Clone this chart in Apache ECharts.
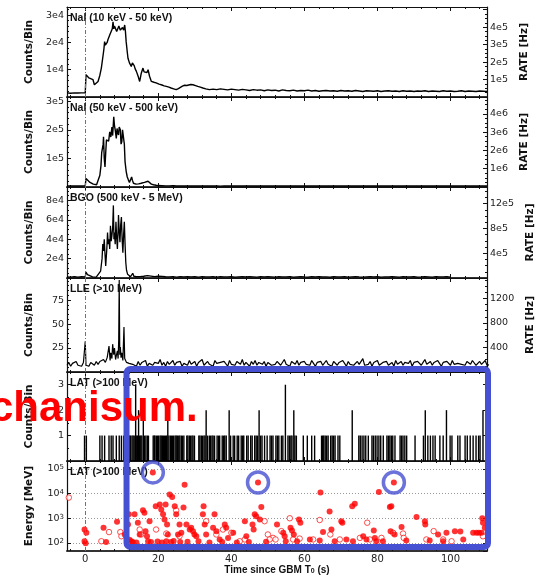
<!DOCTYPE html>
<html>
<head>
<meta charset="utf-8">
<script src="https://cdn.jsdelivr.net/npm/echarts@6/dist/echarts.min.js"></script>
<style>
  html, body { margin: 0; padding: 0; background: #fff; }
  #main { width: 536px; height: 580px; }
</style>
</head>
<body>
<div id="main"></div>
<script>
// ---- data ----
// time in s since GBM T0, counts per bin
const nai1Burst = [
  [-5,1500],[-4.5,1600],[-4,1400],[-3.5,1550],[-3,1500],[-2.5,1600],[-2,1450],[-1.5,1550],[-1,1500],[-0.5,1600],[0,1500],
  [0.2,8200],[0.6,7600],[1.0,7000],[1.5,7300],[2.1,6400],[2.5,4500],[3.0,5000],[3.5,5700],[4.0,8000],[4.4,10600],
  [4.9,15500],[5.1,17500],[5.3,20300],[5.5,19000],[5.7,18500],[6.0,20000],[6.2,21000],[6.5,20500],[6.7,22700],
  [7.1,22000],[7.4,25000],[7.6,27600],[7.8,25000],[8.0,26000],[8.3,26500],[8.6,24000],[8.9,24500],[9.2,26000],
  [9.6,24500],[9.9,23900],[10.2,25500],[10.5,24500],[10.8,26400],[11.0,24000],[11.2,20300],[11.5,16500],[11.7,14200],
  [12.1,12500],[12.4,11800],[12.6,11200],[12.9,12500],[13.1,13000],[13.4,11500],[13.7,10200],[14.0,9400],[14.5,7500],
  [14.9,5700],[15.3,8500],[15.6,9800],[15.8,10600],[16.1,9200],[16.5,9700],[16.9,9000],[17.2,10000],[17.6,7600],
  [18.1,5700],[18.8,5400],[19.4,5200],[20.2,4700],[21.0,4400],[21.6,4100],[22.2,3900],[22.9,3600],[23.5,3300],
  [24.2,3000],[24.9,2700],[25.5,3100],[26.0,3600],[26.6,4000],[27.2,4300],[27.8,4200],[28.3,4400],[28.9,4600],
  [29.5,4500],[30.2,4200],[30.8,3900],[31.5,3600],[32.2,3300],[33.0,3000],[34.0,2700]
];
// 1 s bins from t = 35
const nai1Tail = [
  2900,2700,3000,2800,2600,2900,2700,2500,2800,2600,
  2400,2700,2500,2600,2300,2600,2400,2500,2200,2600,
  2400,2300,2500,2200,2400,2300,2500,2200,2400,2100,
  2300,2400,2200,2300,2100,2400,2200,2300,2100,2400,
  2200,2000,2300,2200,2100,2300,2000,2200,2300,2100,
  2200,2000,2300,2100,2200,2000,2200,2100,2300,2000,
  2200,2100,2000,2300,2100,2200,2000,2100,2300,2000,
  2200,2100,2000,2200,2100,2000
];

const nai2Burst = [
  [-5,3800],[-4.5,4200],[-4,3500],[-3.5,4000],[-3,3700],[-2.5,4100],[-2,3600],[-1.5,3900],[-1,3500],[-0.5,4000],[0,3800],
  [0.2,30000],[0.7,24000],[1.3,16000],[1.8,12000],[2.2,10000],[2.7,8500],[3.1,8000],[3.6,12000],[4.0,41000],
  [4.3,75000],[4.5,120000],[4.7,123000],[4.9,150000],[5.0,176000],[5.2,100000],[5.4,70000],[5.6,120000],[5.8,165000],
  [6.1,170000],[6.4,160000],[6.7,193000],[7.0,175000],[7.3,210000],[7.5,180000],[7.8,246000],[8.0,215000],
  [8.2,200000],[8.5,170000],[8.7,205000],[8.9,190000],[9.1,182000],[9.3,210000],[9.6,200000],[9.8,150000],
  [10.0,158000],[10.2,200000],[10.5,193000],[10.7,150000],[10.9,88000],[11.2,55000],[11.5,35000],[11.8,25000],
  [12.1,16000],[12.4,22000],[12.7,35000],[12.9,24000],[13.2,13000],[13.9,10000],[14.6,11000],[15.3,13000],
  [15.8,11000],[16.2,16000],[16.7,12000],[17.2,20000],[17.6,15000],[18.1,10000],[18.7,8000],[19.4,6000],[20,5000]
];
// 1 s bins from t = 21
const nai2Tail = [
  4500,4000,3800,4200,3600,3900,3400,3800,3500,3700,
  3300,3600,3900,3400,3700,3500,3200,3600,3800,3400,
  3500,3700,3300,3600,3400,3800,3500,3300,3700,3500,
  3400,3600,3800,3300,3500,3700,3400,3600,3300,3500,
  3800,3400,3600,3500,3300,3700,3400,3600,3500,3800,
  3300,3500,3700,3400,3600,3300,3500,3800,3400,3600,
  3500,3300,3700,3500,3400,3600,3800,3300,3500,3700,
  3400,3600,3300,3500,3800,3400,3600,3500,3300,3700,
  3400,3600,3500,3800,3300,3500,3700,3400,3600,3500
];

const bgoBurst = [
  [-5,1200],[-4,900],[-3,1400],[-2,1000],[-1,1300],[0,1100],[0.2,6200],[0.6,3500],[1.0,2000],[2.0,1200],[3.0,1000],
  [3.5,1300],[4.2,7000],[4.6,20000],[4.8,35000],[5.0,28000],[5.2,40000],[5.4,25000],[5.6,12500],[5.9,30000],
  [6.1,47000],[6.3,35000],[6.5,40000],[6.7,30000],[6.9,54000],[7.1,38000],[7.3,44000],[7.5,52000],[7.7,75000],
  [7.85,40000],[8.0,47000],[8.2,35000],[8.4,58000],[8.6,42000],[8.8,30000],[9.0,50000],[9.1,65000],[9.3,48000],
  [9.5,37000],[9.7,55000],[9.9,63000],[10.1,40000],[10.3,26000],[10.5,45000],[10.7,58000],[10.9,35000],
  [11.1,16000],[11.3,8000],[11.6,3800],[12.0,2000],[12.4,1400],[13.0,4900],[13.3,1800]
];
// 1 s bins from t = 14
const bgoTail = [
  1300,1500,1800,2500,2000,1400,1800,1600,1300,1100,
  1400,1000,1300,1200,1500,1100,1300,1000,1400,1200,
  1100,1300,1000,1400,1200,1100,1300,1000,1200,1400,
  1100,1300,1200,1000,1400,1100,1300,1200,1000,1300,
  1200,1100,1400,1000,1200,1300,1100,1000,1300,1200,
  1400,1100,1200,1000,1300,1100,1200,1400,1000,1200,
  1300,1100,1000,1200,1400,1100,1300,1000,1200,1100,
  1300,1200,1000,1400,1100,1200,1300,1000,1100,1300,
  1200,1000,1400,1100,1200,1300,1000
];

const lleBurst = [
  [-5,7],[-4.5,10],[-4,6],[-3.5,9],[-3,8],[-2.5,11],[-2,7],[-1.5,9],[-1,6],[-0.5,10],[-0.2,8],[0,32],[0.2,7],
  [0.5,9],[1,6],[1.5,10],[2,8],[2.5,7],[3,11],[3.5,8],[4,11],[4.5,9],[5,13],[5.5,10],[6,15],[6.5,27],[6.8,12],
  [7,20],[7.3,14],[7.5,29],[7.8,18],[8,25],[8.3,13],[8.5,17],[8.8,22],[9,14],[9.15,32],[9.3,96],[9.45,18],
  [9.6,26],[9.8,15],[10,20],[10.3,12],[10.6,47],[10.8,14],[11,16],[11.3,10],[11.5,12],[12,9],[12.5,11],[13,8]
];
// 0.5 s bins from t = 13.5
const lleTail = [
  9,6,11,7,10,8,12,6,9,11,7,10,8,9,13,7,10,6,11,8,
  9,12,7,10,8,11,6,9,10,7,12,8,9,11,6,10,8,13,7,9,
  11,8,10,6,12,9,7,10,8,11,9,6,12,8,10,7,11,9,8,13,
  7,10,9,6,11,8,12,7,10,9,8,11,6,10,12,7,9,8,11,10,
  7,9,13,8,10,6,11,9,8,12,7,10,9,11,8,10,7,12,9,6,
  10,8,11,7,9,12,8,10,6,11,9,7,10,8,12,9,6,11,8,10,
  7,9,11,8,10,14,7,9,8,11,6,10,9,12,7,8,10,9,11,7,
  9,10,6,12,8,9,11,7,10,8,9,12,6,10,8,11,9,7,10,13,
  8,9,11,7,10,8,12,9,6,10,8,11,9,7,12,8,10,9,11,8,
  10,7,11,9,8,12,10,7,9,11,8,10,12,7,9,8
];

// LAT >100 MeV photons per bin: [t, counts]
const latCounts = [
  [-0.2,1],[0.3,1],
  [4.0,1],[4.6,1],[5.3,1],[6.5,1],[7.1,1],[7.6,1],[8.5,1],[9.3,1],[9.9,1],[10.5,1],
  [11.3,1],[11.6,1],[11.9,1],[12.2,1],[12.4,1],[12.8,1],[13.1,1],[13.4,1],[13.8,3],[14.1,1],[14.3,1],[14.6,2],
  [14.9,1],[15.2,1],[15.5,1],[15.9,2],[16.2,1],[16.6,1],[17.0,1],[17.3,1],
  [18.6,1],[18.9,1],[19.1,1],[19.5,1],[19.8,1],[20.1,1],[20.5,1],[20.8,1],[21.1,1],[21.4,1],[21.7,1],[22.0,1],
  [22.3,1],[22.6,2],[22.9,1],[23.3,1],[23.6,1],[23.9,1],[24.2,1],[24.6,1],[24.9,1],[25.2,1],[25.6,1],[25.9,1],
  [26.3,1],[26.6,1],[27.0,1],[27.8,1],[28.1,1],[28.5,1],[28.8,1],[29.2,1],[29.5,1],[29.9,1],
  [31.1,1],[31.4,1],[31.8,1],[32.1,1],[32.5,1],[32.8,1],[33.1,2],[33.5,1],
  [34.0,1],[34.3,1],[34.7,1],[35.0,1],[35.4,1],[36.1,1],[36.5,1],[36.8,1],[37.5,1],[37.9,1],[38.2,1],[38.6,1],
  [39.4,2],[39.8,1],[40.5,1],[40.9,1],[41.6,1],[42.0,1],[42.7,1],[43.1,1],[43.4,1],[44.2,1],[44.6,1],[45.3,1],
  [45.7,1],[46.4,1],[46.8,1],[47.2,1],[47.6,2],[48.0,1],[48.4,1],[49.1,1],[49.8,1],
  [50.6,1],[51.0,1],[51.4,1],[52.2,1],[52.6,1],[53.0,1],[53.7,1],[54.1,1],[54.8,3],[55.5,1],[55.9,1],[56.3,1],
  [56.6,1],[57.1,2],[57.4,1],[57.8,1],[59.7,1],[60.8,1],[62.0,1],[62.8,1],
  [64.7,1],[65.0,1],[65.3,1],[65.7,1],[66.1,1],[66.5,1],[67.2,1],[67.6,1],[68.0,1],[68.4,1],[69.2,1],[69.7,1],
  [73.1,2],[74.9,1],[75.3,1],[75.8,1],[76.3,1],[76.8,1],[77.5,1],[78.5,1],[78.9,1],[79.4,1],[79.9,1],[80.4,1],
  [80.9,1],[81.6,1],[82.6,1],[83.0,1],[83.4,1],[83.8,1],[84.2,1],[84.8,1],[86.2,1],[86.6,1],[87.0,1],[87.5,1],
  [88.0,1],[90.3,1],[92.6,1],[93.1,2],[93.8,1],[94.5,1],[95.2,1],[95.8,1],[97.1,1],[98.0,1],[98.9,2],[99.9,1],
  [100.4,1],[102.0,1],[102.6,1],[104.0,1],[104.6,1],[105.4,1],[106.2,1],[107.0,1],[107.7,1],[108.1,1],[108.9,2]
];

// LAT photon energies [t, MeV]
const latFilled = [
  [-0.2,350],[0.3,257],[-0.2,117],[0.1,96],[5.0,410],[5.7,110],[8.7,720],[10.8,220],
  [11.9,1450],[11.7,560],[12.1,135],[12.6,117],[13.0,110],[13.5,1450],[14.0,105],[14.4,660],[14.9,220],
  [15.8,2090],[16.2,1660],[16.5,300],[16.9,186],[17.2,117],[17.6,760],[18.0,110],[18.5,72000],[19.3,3090],
  [19.8,115],[20.4,3630],[20.8,2290],[21.0,105],[21.3,1450],[21.7,890],[22.0,3630],[22.2,117],[22.4,560],
  [22.6,220],[23.1,9300],[23.5,110],[23.8,7240],[24.2,120],[24.5,3090],[24.9,1450],[25.4,220],[25.8,560],
  [26.0,108],[26.3,257],[26.9,2700],[27.2,22900],[27.7,560],[28.0,112],[28.6,350],[29.0,410],[29.5,300],
  [29.9,220],[30.4,186],[31.0,118],[32.2,1450],[32.4,3090],[32.7,560],[33.1,220],[34.0,105],[35.0,410],
  [35.4,1450],[35.9,300],[36.8,138],[37.5,110],[38.2,560],[38.6,410],[39.1,160],[40.5,257],[41.5,105],
  [43.7,760],[44.1,186],[44.8,108],[45.8,560],[46.1,350],[46.4,1450],[46.8,1200],[47.3,28200],[47.8,890],
  [48.2,2880],[49.5,112],
  [52.5,560],[54.2,257],[54.6,186],[54.9,117],[56.2,410],[56.6,316],[57.1,220],[58.0,117],[58.5,890],[58.9,660],
  [61.5,138],[64.2,126],[64.4,11000],[65.1,275],[66.9,1860],[67.4,350],[68.3,117],[70.1,760],[70.4,660],
  [71.5,138],[73.1,3090],[73.3,117],[73.8,3890],[76.1,186],[77.0,138],[79.0,316],[79.3,160],[79.7,117],
  [80.4,11700],[81.5,117],[83.4,2880],[83.6,300],[83.8,3090],[84.5,28200],[84.7,220],[86.6,440],[87.9,126],
  [90.7,1120],[93.0,760],[93.1,560],[94.3,126],[96.6,220],[98.0,117],[98.9,257],[101.2,300],[102.7,290],
  [103.5,138],[106.2,257],[107.1,257],[107.8,257],[108.5,257],[108.7,1000],[108.9,660],[109.4,410]
];
const latOpen = [
  [-4.5,6900],[4.4,117],[6.5,275],[9.6,275],[9.9,186],[14.9,350],[15.3,220],[19.4,350],[22.2,240],[24.9,2090],
  [25.8,186],[33.1,760],[35.9,220],[37.7,350],[40.0,257],[42.3,117],[43.7,138],[49.1,760],[50.0,220],[51.4,160],
  [50.5,138],[52.1,138],[53.7,300],[56.0,1000],[56.9,138],[58.7,150],[62.4,138],[64.2,850],[67.1,220],[69.7,138],
  [75.2,160],[77.2,660],[77.9,138],[81.1,160],[84.3,257],[87.0,240],[87.2,160],[93.4,138],[95.4,300],[98.0,138],
  [100.3,117],[108.9,186]
];
// highest-energy photons ringed on the slide
const circledPhotons = [[18.5,72000],[47.3,28200],[84.5,28200]];

const panelTitles = ['NaI (10 keV - 50 keV)', 'NaI (50 keV - 500 keV)', 'BGO (500 keV - 5 MeV)',
                     'LLE (>10 MeV)', 'LAT (>100 MeV)', 'LAT (>100 MeV)'];
const countMax = [33000, 315000, 94000, 98, 3.5];
const countStep = [1e4, 1e5, 2e4, 25, 1];
const countExp = [4, 5, 4, 0, 0];
const countMinor = [5, 5, 4, 5, 2];
const rateStep = [1e5, 1e6, 4e5, 400];
const rateExp = [5, 6, 5, 0];
const rateLabelMax = [4e5, 4e6, 12e5, 1200];
const binWidth = 0.064;
const energyRange = [47, 210000];
const boxStart = 11.3;

// ---- layout ----
const panelTops = [7, 97, 187, 278, 372, 461];
const panelBottoms = [97, 187, 278, 372, 461, 551];
const LEFT = 67, WIDTH = 420;
const ink = '#111';

function curve(burst, tail, start, step) {
  return burst.concat(tail.map((v, k) => [start + k * step, v]));
}
function sci(exp) {
  return v => exp ? Math.round(v / Math.pow(10, exp)) + 'e' + exp : String(v);
}

const chart = echarts.init(document.getElementById('main'));

const tickStyle = { show: true, inside: true, length: 4, lineStyle: { color: ink, width: 1 } };
const lineStyle = { show: true, onZero: false, lineStyle: { color: ink, width: 1.2 } };
const bottomLine = { show: true, onZero: false, lineStyle: { color: '#333', width: 2 } };
const labelStyle = { fontFamily: 'DejaVu Sans', fontSize: 9.5, color: '#222' };
const nameStyle = { fontFamily: 'DejaVu Sans', fontWeight: 'bold', fontSize: 10.5, color: ink };

const t0Line = {
  silent: true, symbol: 'none', label: { show: false }, animation: false,
  lineStyle: { color: '#e8413c', type: [4, 2, 1, 2], width: 1 },
  data: [{ xAxis: 0 }]
};

const grid = [], xAxis = [], yAxis = [], title = [];
panelTops.forEach((top, i) => {
  const last = i === 5;
  grid.push({ left: LEFT, width: WIDTH, top: top, height: panelBottoms[i] - top,
              containLabel: false, outerBoundsMode: 'none' });
  const xBase = {
    type: 'value', gridIndex: i, min: -5, max: 110,
    axisLine: lineStyle, axisTick: tickStyle,
    minorTick: { show: true, splitNumber: 5, length: 2, lineStyle: { color: ink } },
    splitLine: { show: false }
  };
  xAxis.push(Object.assign({}, xBase, {
    position: 'bottom', axisLine: bottomLine,
    axisLabel: Object.assign({ show: last, margin: 3, showMinLabel: false, showMaxLabel: false }, labelStyle, { fontSize: 10 }),
    name: last ? 'Time since GBM T{sub|0} (s)' : '',
    nameLocation: 'middle', nameGap: 14,
    nameTextStyle: { fontFamily: 'Liberation Sans', fontWeight: 'bold', fontSize: 10, color: ink,
      rich: { sub: { fontFamily: 'Liberation Sans', fontWeight: 'bold', fontSize: 7, color: ink, verticalAlign: 'bottom', lineHeight: 7 } } }
  }));
  xAxis.push(Object.assign({}, xBase, { position: 'top', axisLabel: { show: false } }));

  title.push({ text: panelTitles[i], left: LEFT + 3, top: top + 6, padding: 0,
    textStyle: { fontFamily: 'Liberation Sans', fontWeight: 'bold', fontSize: 10.5, color: ink } });

  if (i < 5) {
    const linBase = {
      type: 'value', gridIndex: i, min: 0, max: countMax[i], interval: countStep[i],
      axisLine: lineStyle, axisTick: tickStyle,
      minorTick: { show: true, splitNumber: countMinor[i], length: 2, lineStyle: { color: ink } },
      splitLine: { show: false }
    };
    yAxis.push(Object.assign({}, linBase, {
      position: 'left',
      axisLabel: Object.assign({ margin: 3, showMinLabel: false, showMaxLabel: false, formatter: sci(countExp[i]) }, labelStyle),
      name: 'Counts/Bin', nameLocation: 'middle', nameRotate: 90, nameGap: 32, nameTextStyle: nameStyle
    }));
    if (i < 4) {
      const capLabel = rateLabelMax[i], fmt = sci(rateExp[i]);
      yAxis.push(Object.assign({}, linBase, {
        position: 'right', max: countMax[i] / binWidth, interval: rateStep[i],
        minorTick: { show: true, splitNumber: 4, length: 2, lineStyle: { color: ink } },
        axisLabel: Object.assign({ margin: 3, showMinLabel: false, showMaxLabel: false,
          formatter: v => v > capLabel ? '' : fmt(v) }, labelStyle),
        name: 'RATE [Hz]', nameLocation: 'middle', nameRotate: 90, nameGap: 24, nameTextStyle: nameStyle
      }));
    } else {
      yAxis.push(Object.assign({}, linBase, { position: 'right', axisLabel: { show: false } }));
    }
  } else {
    const logBase = {
      type: 'log', logBase: 10, gridIndex: i, min: energyRange[0], max: energyRange[1],
      axisLine: lineStyle, axisTick: tickStyle, minorTick: { show: false }
    };
    yAxis.push(Object.assign({}, logBase, {
      position: 'left',
      splitLine: { show: true, lineStyle: { type: [1, 2], color: '#999', width: 1 } },
      axisLabel: Object.assign({ margin: 3, showMinLabel: false, showMaxLabel: false,
        formatter: v => '10{sup|' + Math.round(Math.log10(v)) + '}',
        rich: { sup: { fontFamily: 'DejaVu Sans', fontSize: 7, color: '#222', verticalAlign: 'top', lineHeight: 8 } } }, labelStyle),
      name: 'Energy [MeV]', nameLocation: 'middle', nameRotate: 90, nameGap: 32, nameTextStyle: nameStyle
    }));
    yAxis.push(Object.assign({}, logBase, { position: 'right', splitLine: { show: false }, axisLabel: { show: false } }));
  }
});

function lc(i, data, w) {
  return { type: 'line', xAxisIndex: 2 * i, yAxisIndex: 2 * i, data: data, showSymbol: false,
           symbol: 'none', lineStyle: { color: '#000', width: w }, markLine: t0Line, silent: true };
}

const series = [
  lc(0, curve(nai1Burst, nai1Tail, 35, 1), 1.4),
  lc(1, curve(nai2Burst, nai2Tail, 21, 1), 1.4),
  lc(2, curve(bgoBurst, bgoTail, 14, 1), 1.3),
  lc(3, curve(lleBurst, lleTail, 13.5, 0.5), 1.2),
  { type: 'bar', xAxisIndex: 8, yAxisIndex: 8, data: latCounts, barWidth: 1.4,
    itemStyle: { color: '#000' }, markLine: t0Line, silent: true },
  { type: 'scatter', xAxisIndex: 10, yAxisIndex: 10, data: latOpen, symbol: 'circle', symbolSize: 5.5,
    itemStyle: { color: '#fff', borderColor: '#ff2020', borderWidth: 1 }, markLine: t0Line, silent: true },
  { type: 'scatter', xAxisIndex: 10, yAxisIndex: 10, data: latFilled, symbol: 'circle', symbolSize: 6,
    itemStyle: { color: '#ff0000' }, silent: true },
  { type: 'scatter', xAxisIndex: 10, yAxisIndex: 10, data: circledPhotons, symbol: 'circle', symbolSize: 21,
    itemStyle: { color: 'rgba(0,0,0,0)', borderColor: '#4650d2', borderWidth: 3.5 }, silent: true, z: 20 }
];

chart.setOption({
  animation: false,
  backgroundColor: '#fff',
  title: title,
  grid: grid,
  xAxis: xAxis,
  yAxis: yAxis,
  series: series
});

// slide annotations: blue frame over the LAT panels and the cut-off caption
const bx0 = chart.convertToPixel({ xAxisIndex: 8 }, boxStart);
const bx1 = chart.convertToPixel({ xAxisIndex: 8 }, 110);
chart.setOption({
  graphic: [
    { type: 'rect', z: 100, silent: true,
      shape: { x: bx0, y: panelTops[4] - 3, width: bx1 - bx0 + 1, height: panelBottoms[5] - 4 - (panelTops[4] - 3), r: 4 },
      style: { fill: 'none', stroke: '#4650d2', lineWidth: 6 } },
    { type: 'text', z: 101, silent: true, x: -10, y: 409,
      style: { text: 'chanisum.', font: 'bold 42px "Liberation Sans"', fill: '#ff0000', align: 'left', verticalAlign: 'middle' } }
  ]
});
</script>
</body>
</html>
